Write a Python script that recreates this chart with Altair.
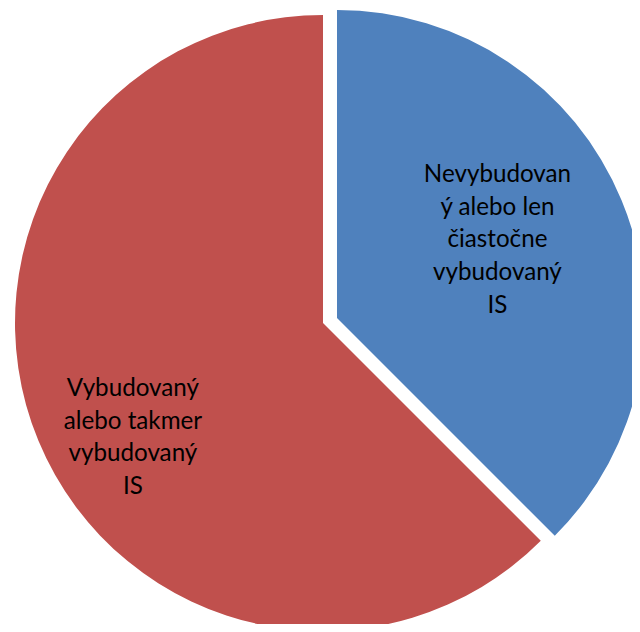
import altair as alt
import pandas as pd

categories = [
    "Nevybudovaný alebo len čiastočne vybudovaný IS",
    "Vybudovaný alebo takmer vybudovaný IS",
]
values = [37.5, 62.5]
labels = [
    "Nevybudovan\ný alebo len\nčiastočne\nvybudovaný\nIS",
    "Vybudovaný\nalebo takmer\nvybudovaný\nIS",
]
colors = ["#4F81BD", "#C0504D"]

df = pd.DataFrame({"category": categories, "value": values, "label": labels})

theta_scale = alt.Scale(domain=[0, 1])
color_scale = alt.Scale(domain=categories, range=colors)

base = (
    alt.Chart(df)
    .transform_window(cum="sum(value)", sort=[alt.SortField("category")])
    .transform_joinaggregate(total="sum(value)")
    .transform_calculate(
        start="(datum.cum - datum.value) / datum.total",
        end="datum.cum / datum.total",
        mid="(datum.cum - datum.value / 2) / datum.total",
    )
)

R = 308
# exploded slice origin and main origin (plot coordinates)
BX, BY = 329, 310
RX, RY = 315, 315

blue = base.transform_filter(alt.datum.category == categories[0])
red = base.transform_filter(alt.datum.category == categories[1])


def arc(src, cx, cy):
    return src.mark_arc(radius=R).encode(
        theta=alt.Theta("start:Q", scale=theta_scale, stack=False),
        theta2="end:Q",
        color=alt.Color("category:N", scale=color_scale, legend=None),
        x=alt.value(cx),
        y=alt.value(cy),
    )


def label(src, cx, cy, r, dx, dy):
    return src.mark_text(
        radius=r,
        font="Lato",
        fontSize=24.2,
        lineBreak="\n",
        lineHeight=32.7,
        align="center",
        baseline="middle",
        color="#000000",
        dx=dx,
        dy=dy,
    ).encode(
        theta=alt.Theta("mid:Q", scale=theta_scale, stack=False),
        text="label:N",
        x=alt.value(cx),
        y=alt.value(cy),
    )


chart = alt.layer(
    arc(blue, BX, BY),
    arc(red, RX, RY),
    label(blue, BX, BY, 178, -4, -75),
    label(red, RX, RY, 222, 15, -19),
).properties(
    width=624,
    height=616,
    autosize=alt.AutoSizeParams(type="none"),
    padding=0,
).configure_view(stroke=None)

chart.save("out.html", embed_options={"renderer": "svg", "actions": False})
